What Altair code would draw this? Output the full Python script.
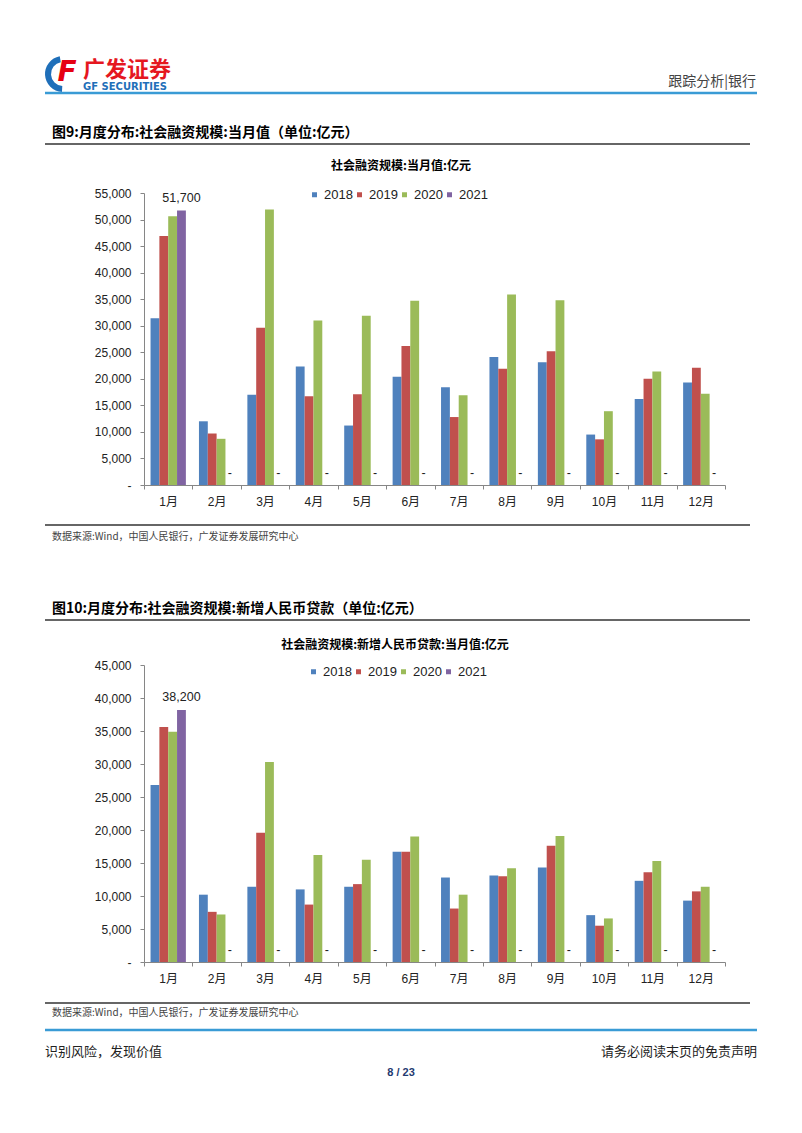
import altair as alt
import pandas as pd

# ---------------- data ----------------
months = ["1月", "2月", "3月", "4月", "5月", "6月", "7月", "8月", "9月", "10月", "11月", "12月"]
years = ["2018", "2019", "2020", "2021"]
year_colors = ["#4F81BD", "#C0504D", "#9BBB59", "#8064A2"]

# 社会融资规模:当月值 (亿元)
tsf_2018 = [31400, 12000, 17000, 22300, 11200, 20400, 18400, 24100, 23100, 9500, 16200, 19300]
tsf_2019 = [46900, 9700, 29600, 16700, 17100, 26200, 12800, 21900, 25200, 8600, 20000, 22100]
tsf_2020 = [50600, 8700, 51900, 31000, 31900, 34700, 16900, 35900, 34800, 13900, 21400, 17200]
tsf_2021 = [51700, 0, 0, 0, 0, 0, 0, 0, 0, 0, 0, 0]
tsf_ticks = [0, 5000, 10000, 15000, 20000, 25000, 30000, 35000, 40000, 45000, 50000, 55000]

# 社会融资规模:新增人民币贷款:当月值 (亿元)
loan_2018 = [26800, 10200, 11400, 11000, 11400, 16700, 12800, 13100, 14300, 7100, 12300, 9300]
loan_2019 = [35600, 7600, 19600, 8700, 11800, 16700, 8100, 13000, 17600, 5500, 13600, 10700]
loan_2020 = [34900, 7200, 30300, 16200, 15500, 19000, 10200, 14200, 19100, 6600, 15300, 11400]
loan_2021 = [38200, 0, 0, 0, 0, 0, 0, 0, 0, 0, 0, 0]
loan_ticks = [0, 5000, 10000, 15000, 20000, 25000, 30000, 35000, 40000, 45000]


def long_df(series):
    rows = []
    for y, vals in zip(years, series):
        for m, v in zip(months, vals):
            rows.append({"month": m, "year": y, "value": v})
    return pd.DataFrame(rows)


tsf_df = long_df([tsf_2018, tsf_2019, tsf_2020, tsf_2021])
loan_df = long_df([loan_2018, loan_2019, loan_2020, loan_2021])

# ---------------- layout ----------------
PW, PH = 786, 1090          # whole page drawing area (plot coords = page - 8)
NUM = "Liberation Sans, Noto Sans CJK SC"
CJK = "Noto Sans CJK SC"


def P(v):
    return v - 8


def bar_panel(df, ymax, ticks, x_rng, y_rng, leg_x, leg_y):
    x = alt.X(
        "month:N",
        scale=alt.Scale(domain=months, range=x_rng, paddingInner=0, paddingOuter=0),
        axis=alt.Axis(
            title=None, orient="bottom", offset=y_rng[0] - PH, tickBand="extent",
            labelAngle=0, labelFont=NUM, labelFontSize=12, labelColor="#222",
            labelPadding=7, tickSize=4, tickColor="#868686", domainColor="#868686",
            grid=False,
        ),
    )
    y = alt.Y(
        "value:Q",
        scale=alt.Scale(domain=[0, ymax], range=y_rng, nice=False, zero=True),
        axis=alt.Axis(
            title=None, orient="left", offset=-x_rng[0], values=ticks,
            labelExpr="datum.value == 0 ? '-\u00a0\u00a0' : format(datum.value, ',')",
            labelFont=NUM, labelFontSize=12, labelColor="#222", labelPadding=9,
            tickSize=4, tickColor="#868686", domainColor="#868686", grid=False,
            labelOverlap=False,
        ),
    )
    xo = alt.XOffset("year:N", scale=alt.Scale(domain=years, paddingInner=0, paddingOuter=0.74))
    color = alt.Color(
        "year:N",
        scale=alt.Scale(domain=years, range=year_colors),
        legend=alt.Legend(
            title=None, orient="none", legendX=leg_x, legendY=leg_y, direction="horizontal",
            symbolType="square", symbolSize=25, symbolStrokeWidth=0, labelFont=NUM,
            labelFontSize=13, labelColor="#222", labelOffset=3, columnPadding=-5.5, padding=0,
        ),
    )
    bars = alt.Chart(df).mark_bar().encode(x=x, xOffset=xo, y=y, color=color)
    labels = (
        alt.Chart(df)
        .transform_filter("datum.year == '2021'")
        .transform_calculate(label="datum.value > 0 ? format(datum.value, ',') : '-'")
        .mark_text(dy=-12.5, font=NUM, fontSize=12.5, color="#222", baseline="middle")
        .encode(x=x, xOffset=xo, y=y, text="label:N")
    )
    return alt.layer(bars, labels)


def one():
    return alt.Data(values=[{}])


def txt(s, x, y, size, color="#000", weight="normal", align="left", font=CJK, style="normal"):
    return (
        alt.Chart(one())
        .mark_text(text=s, align=align, baseline="middle", fontSize=size, fontWeight=weight,
                   color=color, font=font, fontStyle=style)
        .encode(x=alt.value(P(x)), y=alt.value(P(y)))
    )


def hline(x1, x2, y, color, width):
    return (
        alt.Chart(one())
        .mark_rule(color=color, strokeWidth=width)
        .encode(x=alt.value(P(x1)), x2=alt.value(P(x2)), y=alt.value(P(y)))
    )


panel1 = bar_panel(tsf_df, 55000, tsf_ticks, [P(144), P(725)], [P(485), P(193)], P(308), P(188))
panel2 = bar_panel(loan_df, 45000, loan_ticks, [P(144), P(725)], [P(962), P(665)], P(307), P(665))

logo_arc = (
    alt.Chart(one())
    .mark_arc(theta=3.2, theta2=6.1, radius=18, radius2=12, color="#1f6fb9")
    .encode(x=alt.value(P(63)), y=alt.value(P(74)))
)

decor = [
    logo_arc,
    txt("F", 67, 73, 28, color="#e60012", weight="bold", font="DejaVu Sans", style="italic", align="center"),
    txt("广发证券", 83, 70, 22, color="#e5171f", weight="bold"),
    txt("GF SECURITIES", 83, 87, 10, color="#1f6fb9", weight="bold", font="DejaVu Sans"),
    txt("跟踪分析|银行", 756, 82, 14, color="#444", align="right"),
    hline(45, 757, 93, "#3a9bd5", 2.5),
    # figure 9
    txt("图9:月度分布:社会融资规模:当月值（单位:亿元）", 52, 133, 14, weight="bold"),
    hline(45, 750, 144, "#666", 2),
    txt("社会融资规模:当月值:亿元", 401, 166, 12, weight="bold", align="center"),
    hline(45, 750, 525, "#666", 2),
    txt("数据来源:Wind，中国人民银行，广发证券发展研究中心", 52, 537, 10, color="#444"),
    # figure 10
    txt("图10:月度分布:社会融资规模:新增人民币贷款（单位:亿元）", 52, 609, 14, weight="bold"),
    hline(45, 750, 620, "#666", 2),
    txt("社会融资规模:新增人民币贷款:当月值:亿元", 395, 645, 12, weight="bold", align="center"),
    hline(45, 750, 1003, "#666", 2),
    txt("数据来源:Wind，中国人民银行，广发证券发展研究中心", 52, 1013, 10, color="#444"),
    # footer
    hline(45, 757, 1030, "#3a9bd5", 2.5),
    txt("识别风险，发现价值", 45, 1052, 13, color="#222"),
    txt("请务必阅读末页的免责声明", 757, 1052, 13, color="#222", align="right"),
    txt("8 / 23", 401, 1073, 11, color="#1f3a70", weight="bold", align="center", font=NUM),
]

chart = (
    alt.layer(panel1, panel2, *decor)
    .resolve_scale(x="independent", y="independent", xOffset="independent", color="independent")
    .properties(width=PW, height=PH, padding=0, autosize=alt.AutoSizeParams(type="none"))
    .configure_view(stroke=None)
)

chart.save("out.html", embed_options={"renderer": "svg", "actions": False})
